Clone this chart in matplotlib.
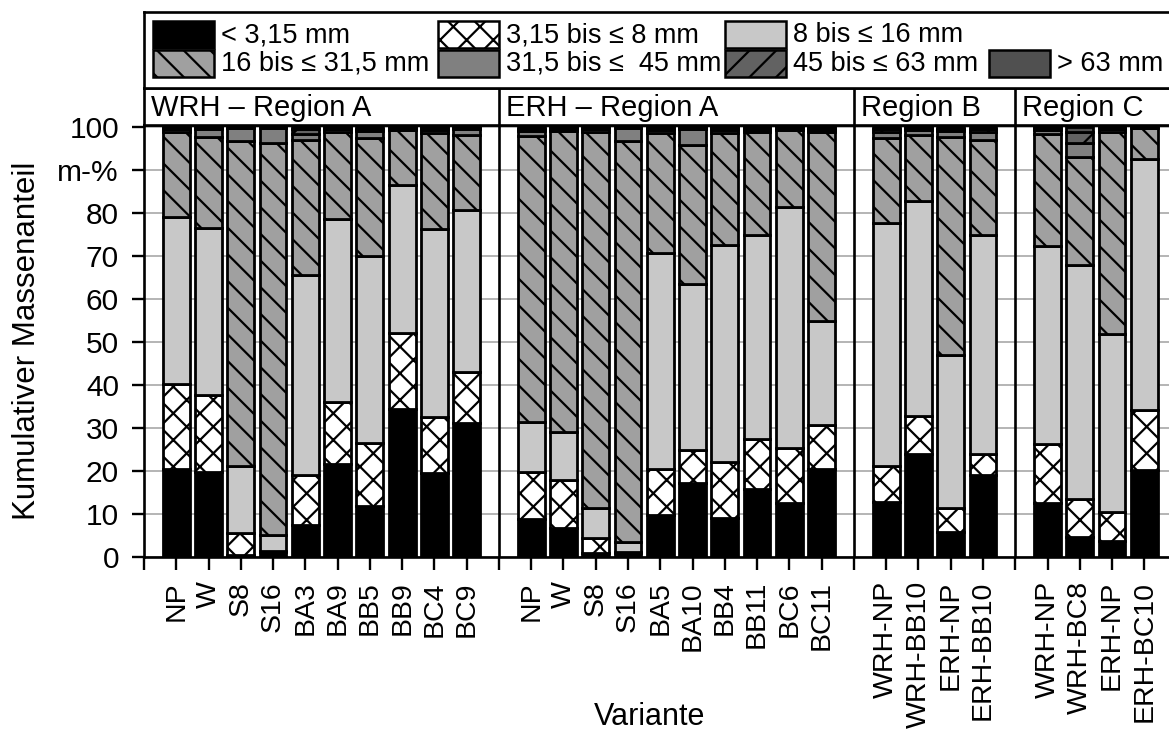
import matplotlib
matplotlib.use('Agg')
import matplotlib.pyplot as plt
from matplotlib.patches import Rectangle

# rendering at 80 dpi (hatch spacing follows dpi); point sizes scaled so pixels match 100-dpi sizes
DPI = 80
S = 100 / DPI

plt.rcParams['font.family'] = ['Liberation Sans', 'DejaVu Sans']
plt.rcParams['hatch.linewidth'] = 1.6 * S

# ---------------- data ----------------
classes = ['< 3,15 mm', '3,15 bis ≤ 8 mm', '8 bis ≤ 16 mm', '16 bis ≤ 31,5 mm',
           '31,5 bis ≤  45 mm', '45 bis ≤ 63 mm', '> 63 mm']

panel_titles = ['WRH – Region A', 'ERH – Region A', 'Region B', 'Region C']

variants_wrh_a = ['NP', 'W', 'S8', 'S16', 'BA3', 'BA9', 'BB5', 'BB9', 'BC4', 'BC9']
variants_erh_a = ['NP', 'W', 'S8', 'S16', 'BA5', 'BA10', 'BB4', 'BB11', 'BC6', 'BC11']
variants_b = ['WRH-NP', 'WRH-BB10', 'ERH-NP', 'ERH-BB10']
variants_c = ['WRH-NP', 'WRH-BC8', 'ERH-NP', 'ERH-BC10']

# cumulative mass fraction (m-%) at the upper limit of classes 1..6 (class 7 closes at 100)
cum_wrh_a = [
    [20.5, 40.2, 78.9, 98.7, 99.5, 99.7],
    [19.7, 37.5, 76.4, 97.7, 99.4, 99.6],
    [0.3, 5.4, 21.2, 96.7, 99.6, 99.8],
    [1.2, 1.3, 5.0, 96.1, 99.7, 99.9],
    [7.3, 18.9, 65.5, 96.9, 98.2, 99.5],
    [21.6, 35.9, 78.6, 98.8, 99.4, 99.7],
    [11.8, 26.4, 69.9, 97.3, 99.0, 99.5],
    [34.4, 52.0, 86.5, 99.2, 99.6, 99.8],
    [19.5, 32.6, 76.1, 98.5, 99.3, 99.6],
    [31.0, 43.0, 80.7, 98.1, 99.5, 99.7],
]
cum_erh_a = [
    [8.7, 19.7, 31.3, 97.9, 99.0, 99.4],
    [6.7, 17.8, 29.0, 99.0, 99.5, 99.7],
    [0.8, 4.3, 11.4, 98.7, 99.4, 99.6],
    [0.9, 1.0, 3.5, 96.7, 99.7, 99.9],
    [9.8, 20.5, 70.7, 98.5, 99.3, 99.6],
    [17.1, 24.9, 63.5, 95.8, 99.4, 99.7],
    [9.1, 22.0, 72.6, 98.5, 99.3, 99.6],
    [15.8, 27.4, 74.8, 98.7, 99.3, 99.6],
    [12.4, 25.3, 81.3, 99.2, 99.6, 99.8],
    [20.5, 30.7, 54.8, 98.7, 99.3, 99.6],
]
cum_b = [
    [12.7, 21.2, 77.5, 97.3, 98.8, 99.4],
    [23.9, 32.8, 82.8, 98.1, 99.3, 99.6],
    [5.7, 11.4, 46.9, 97.7, 99.0, 99.5],
    [19.1, 23.9, 74.8, 96.9, 98.8, 99.4],
]
cum_c = [
    [12.4, 26.3, 72.2, 98.4, 99.3, 99.6],
    [4.5, 13.5, 67.8, 93.0, 96.1, 98.8],
    [3.7, 10.4, 51.7, 98.8, 99.4, 99.7],
    [20.1, 34.1, 92.4, 99.6, 99.8, 99.9],
]

yticks = [0, 10, 20, 30, 40, 50, 60, 70, 80, 90, 100]
ytick_labels = ['0', '10', '20', '30', '40', '50', '60', '70', '80', 'm-%', '100']

# ---------------- styles ----------------
facecolors = ['#000000', '#ffffff', '#c8c8c8', '#a0a0a0', '#808080', '#626262', '#505050']
hatches = [None, 'x', None, '\\', None, '/', None]

W, H = 1169, 731
fig = plt.figure(figsize=(W / DPI, H / DPI), dpi=DPI)

x0_px, x1_px = 144, 1176.6
ax = fig.add_axes([x0_px / W, 1 - 556.7 / H, (x1_px - x0_px) / W, (556.7 - 125) / H])
hx = fig.add_axes([x0_px / W, 1 - 125 / H, (x1_px - x0_px) / W, (125 - 88) / H])
lx = fig.add_axes([x0_px / W, 1 - 88 / H, (x1_px - x0_px) / W, (88 - 12) / H])

panels = [(variants_wrh_a, cum_wrh_a), (variants_erh_a, cum_erh_a),
          (variants_b, cum_b), (variants_c, cum_c)]
offset = 0
dividers = []
starts = []
tick_pos = []
tick_lab = []
for names, cum in panels:
    starts.append(offset)
    for i, (name, c) in enumerate(zip(names, cum)):
        x = offset + i + 1
        tick_pos.append(x)
        tick_lab.append(name)
        bounds = [0] + list(c) + [100]
        for k in range(7):
            ax.bar(x, bounds[k + 1] - bounds[k], bottom=bounds[k], width=0.83,
                   color=facecolors[k], edgecolor='black', linewidth=2.0 * S,
                   hatch=hatches[k], zorder=2)
    offset += len(names) + 1
    dividers.append(offset)

ax.set_xlim(0, 32)
ax.set_ylim(0, 100.4)
ax.set_yticks(yticks)
ax.set_yticklabels(ytick_labels)
ax.set_xticks(tick_pos)
ax.set_xticklabels(tick_lab, rotation=90)
ax.set_xticks([0] + dividers[:-1], minor=True)
ax.tick_params(axis='x', which='both', direction='out', length=9.5 * S, width=1.7 * S,
               pad=8 * S, labelsize=20.5 * S)
ax.tick_params(axis='y', direction='out', length=8.5 * S, width=1.7 * S,
               pad=9.5 * S, labelsize=21.5 * S)
ax.yaxis.grid(True, color='#a8a8a8', linewidth=1.2 * S)
ax.set_axisbelow(True)
for s in ax.spines.values():
    s.set_linewidth(1.9 * S)
for d in dividers[:-1]:
    ax.axvline(d, color='black', linewidth=1.9 * S, zorder=3)

# header strip
hx.set_xlim(0, 32)
hx.set_ylim(0, 1)
hx.set_xticks([])
hx.set_yticks([])
for s in hx.spines.values():
    s.set_linewidth(1.9 * S)
for d in dividers[:-1]:
    hx.axvline(d, color='black', linewidth=1.9 * S)
for st, title in zip(starts, panel_titles):
    hx.text(st + 0.22, 0.47, title, ha='left', va='center', fontsize=21 * S)

# legend box
lx.set_xlim(x0_px, x1_px)
lx.set_ylim(88, 12)
lx.set_xticks([])
lx.set_yticks([])
for s in lx.spines.values():
    s.set_linewidth(1.9 * S)

legend_slots = [(153, 21), (438, 21), (725, 21),
                (153, 50), (438, 50), (725, 50), (989, 50)]
for k, (px, py) in enumerate(legend_slots):
    lx.add_patch(Rectangle((px, py), 61, 27, facecolor=facecolors[k],
                           edgecolor='black', linewidth=1.8 * S, hatch=hatches[k]))
    lx.text(px + 68, py + 14, classes[k], ha='left', va='center', fontsize=19.5 * S)

fig.text(27 / W, 1 - 341 / H, 'Kumulativer Massenanteil', rotation=90,
         ha='center', va='center', fontsize=22.5 * S)
fig.text(650 / W, 1 - 725 / H, 'Variante', ha='center', va='baseline', fontsize=22 * S)

fig.savefig('out.png', dpi=DPI)
